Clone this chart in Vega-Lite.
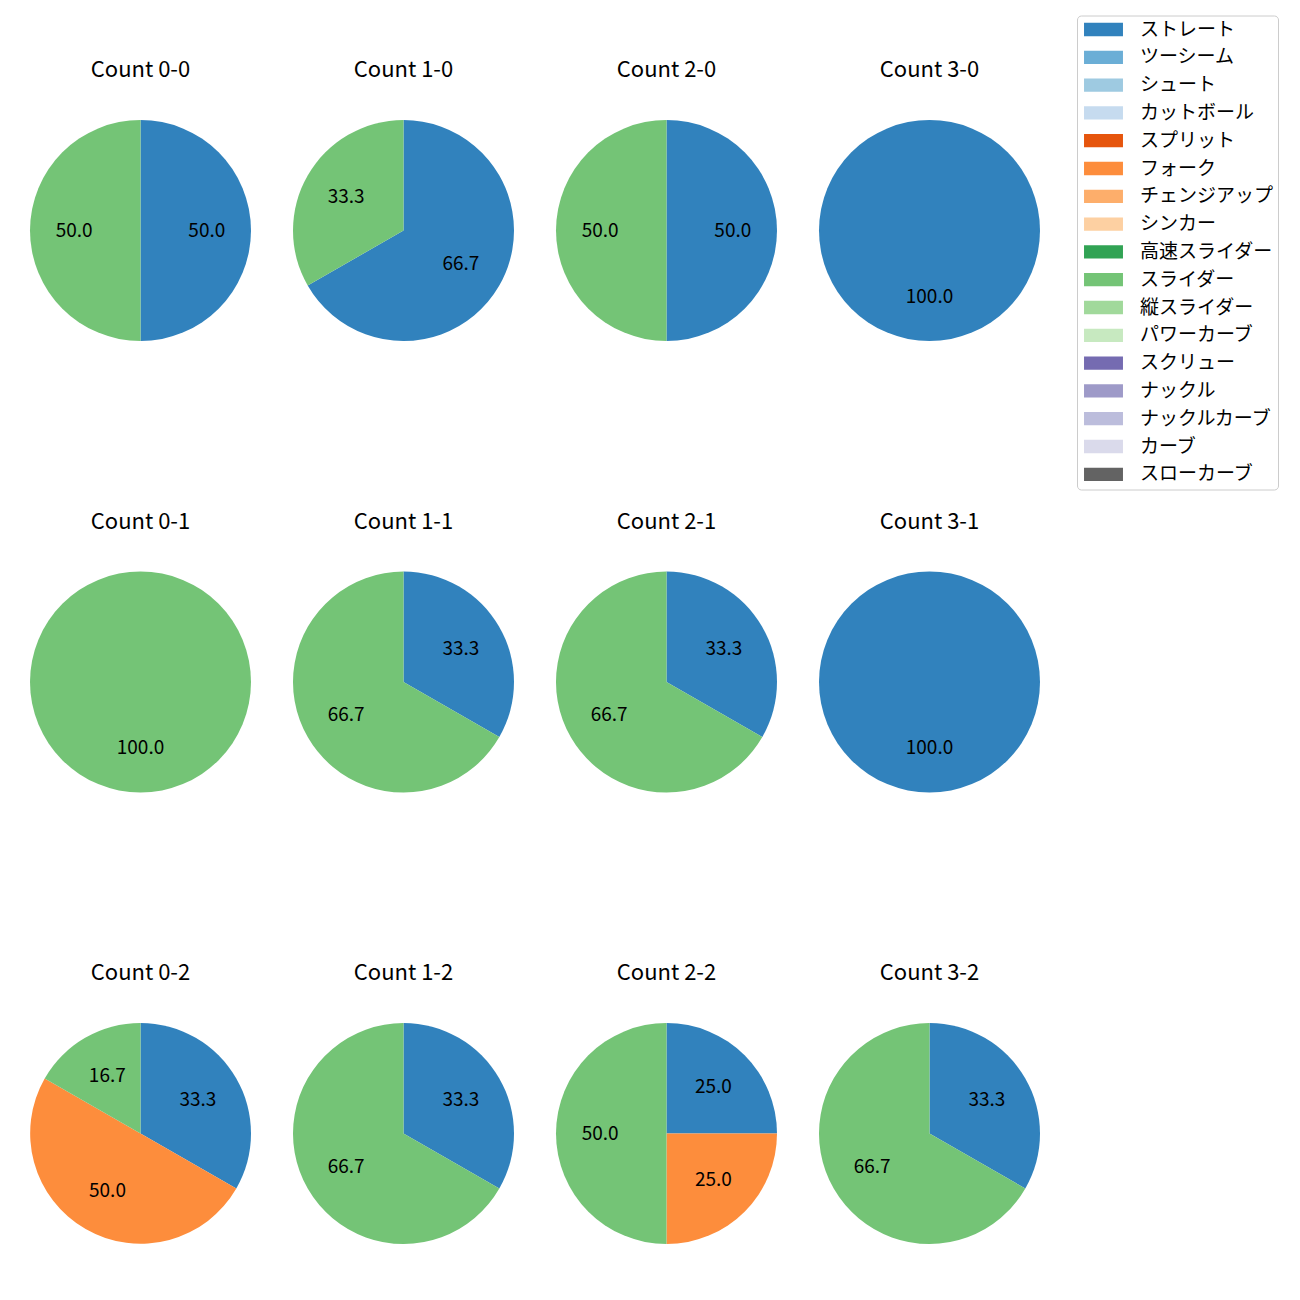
{
  "$schema": "https://vega.github.io/schema/vega-lite/v6.json",
  "padding": {"left": 30, "top": 15, "right": 0, "bottom": 0},
  "background": "white",
  "data": {"values": [
    {"count": "Count 0-0", "pitch": "ストレート", "rank": 1, "pct": 50.0},
    {"count": "Count 0-0", "pitch": "スライダー", "rank": 10, "pct": 50.0},
    {"count": "Count 1-0", "pitch": "ストレート", "rank": 1, "pct": 66.7},
    {"count": "Count 1-0", "pitch": "スライダー", "rank": 10, "pct": 33.3},
    {"count": "Count 2-0", "pitch": "ストレート", "rank": 1, "pct": 50.0},
    {"count": "Count 2-0", "pitch": "スライダー", "rank": 10, "pct": 50.0},
    {"count": "Count 3-0", "pitch": "ストレート", "rank": 1, "pct": 100.0},
    {"count": "Count 0-1", "pitch": "スライダー", "rank": 10, "pct": 100.0},
    {"count": "Count 1-1", "pitch": "ストレート", "rank": 1, "pct": 33.3},
    {"count": "Count 1-1", "pitch": "スライダー", "rank": 10, "pct": 66.7},
    {"count": "Count 2-1", "pitch": "ストレート", "rank": 1, "pct": 33.3},
    {"count": "Count 2-1", "pitch": "スライダー", "rank": 10, "pct": 66.7},
    {"count": "Count 3-1", "pitch": "ストレート", "rank": 1, "pct": 100.0},
    {"count": "Count 0-2", "pitch": "ストレート", "rank": 1, "pct": 33.3},
    {"count": "Count 0-2", "pitch": "フォーク", "rank": 6, "pct": 50.0},
    {"count": "Count 0-2", "pitch": "スライダー", "rank": 10, "pct": 16.7},
    {"count": "Count 1-2", "pitch": "ストレート", "rank": 1, "pct": 33.3},
    {"count": "Count 1-2", "pitch": "スライダー", "rank": 10, "pct": 66.7},
    {"count": "Count 2-2", "pitch": "ストレート", "rank": 1, "pct": 25.0},
    {"count": "Count 2-2", "pitch": "フォーク", "rank": 6, "pct": 25.0},
    {"count": "Count 2-2", "pitch": "スライダー", "rank": 10, "pct": 50.0},
    {"count": "Count 3-2", "pitch": "ストレート", "rank": 1, "pct": 33.3},
    {"count": "Count 3-2", "pitch": "スライダー", "rank": 10, "pct": 66.7}
  ]},
  "facet": {
    "field": "count",
    "type": "nominal",
    "sort": ["Count 0-0", "Count 1-0", "Count 2-0", "Count 3-0", "Count 0-1", "Count 1-1", "Count 2-1", "Count 3-1", "Count 0-2", "Count 1-2", "Count 2-2", "Count 3-2"],
    "header": {"title": null, "labelFontSize": 22, "labelFont": "Noto Sans CJK JP", "labelColor": "#000000", "labelPadding": 38}
  },
  "columns": 4,
  "spacing": {"row": 169.5, "column": 42},
  "spec": {
    "width": 221,
    "height": 221,
    "layer": [
      {
        "mark": {"type": "arc", "outerRadius": 110.5},
        "encoding": {
          "theta": {"field": "pct", "type": "quantitative", "stack": true},
          "order": {"field": "rank", "type": "quantitative"},
          "color": {
            "field": "pitch",
            "type": "nominal",
            "scale": {
              "domain": ["ストレート", "ツーシーム", "シュート", "カットボール", "スプリット", "フォーク", "チェンジアップ", "シンカー", "高速スライダー", "スライダー", "縦スライダー", "パワーカーブ", "スクリュー", "ナックル", "ナックルカーブ", "カーブ", "スローカーブ"],
              "range": ["#3182bd", "#6baed6", "#9ecae1", "#c6dbef", "#e6550d", "#fd8d3c", "#fdae6b", "#fdd0a2", "#31a354", "#74c476", "#a1d99b", "#c7e9c0", "#756bb1", "#9e9ac8", "#bcbddc", "#dadaeb", "#636363"]
            },
            "legend": {
              "title": null,
              "orient": "none",
              "legendX": 1047,
              "legendY": -104.5,
              "symbolType": "M-2.05,-0.7H2.05V0.7H-2.05Z",
              "symbolSize": 361,
              "symbolStrokeWidth": 0,
              "symbolOpacity": 1,
              "symbolOffset": 12.5,
              "labelFont": "Noto Sans CJK JP",
              "labelFontSize": 19,
              "labelColor": "#000000",
              "labelOffset": 27,
              "rowPadding": 7.8,
              "padding": 4.5,
              "strokeColor": "#cccccc",
              "fillColor": "white",
              "cornerRadius": 4,
              "labelLimit": 300
            }
          }
        }
      },
      {
        "mark": {"type": "text", "radius": 66.3, "fontSize": 19, "font": "Noto Sans CJK JP", "color": "#000000"},
        "encoding": {
          "theta": {"field": "pct", "type": "quantitative", "stack": true},
          "order": {"field": "rank", "type": "quantitative"},
          "detail": {"field": "pitch", "type": "nominal"},
          "text": {"field": "pct", "type": "quantitative", "format": ".1f"}
        }
      }
    ]
  },
  "config": {"view": {"stroke": null}}
}
